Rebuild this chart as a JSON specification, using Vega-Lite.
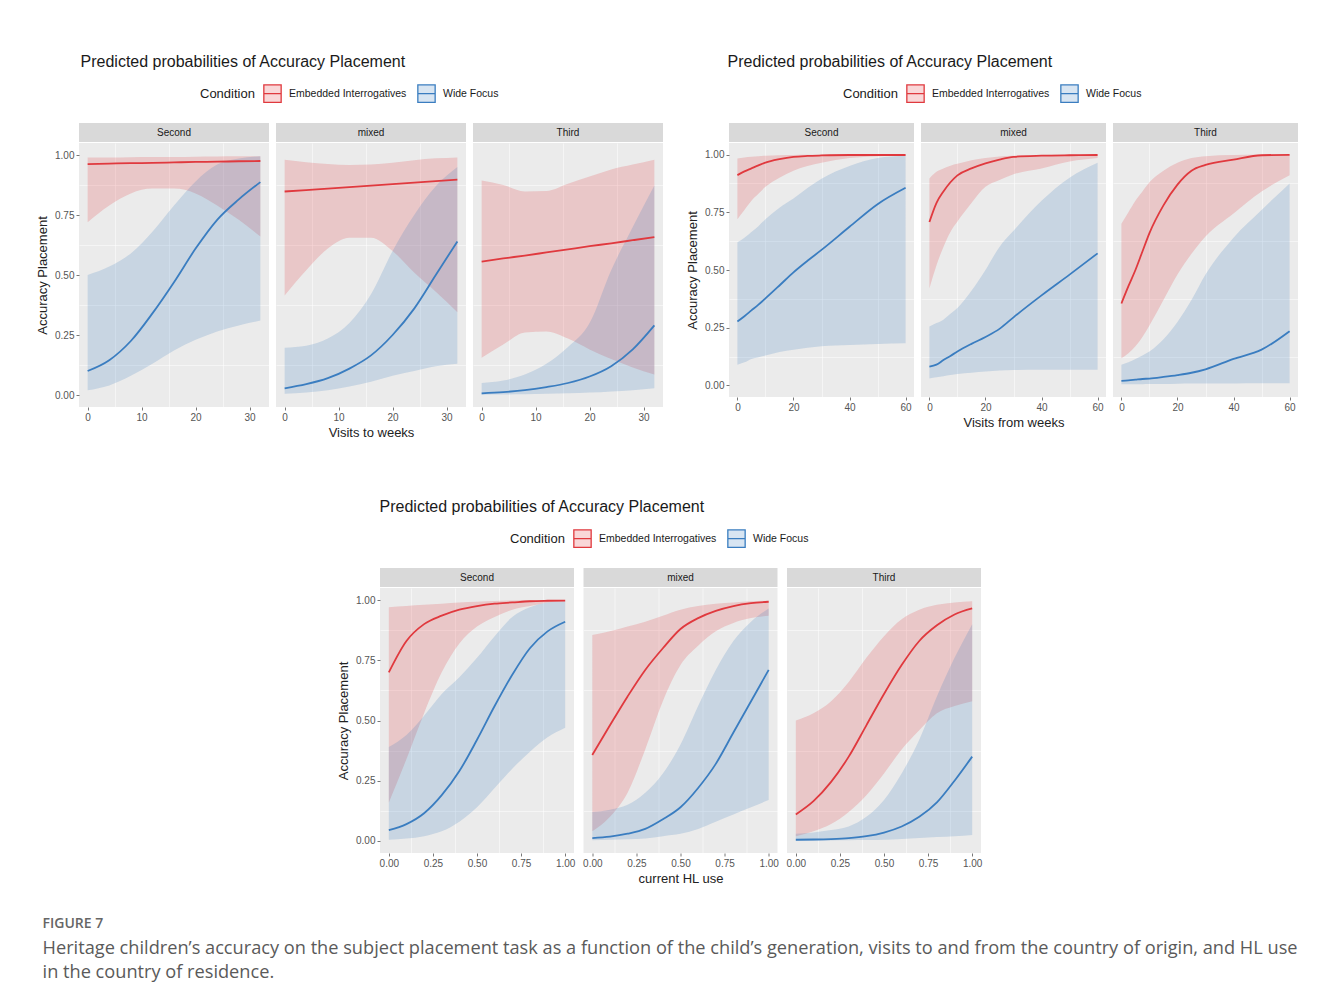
{
"$schema": "https://vega.github.io/schema/vega-lite/v6.json",
"background": "#ffffff",
"padding": {"left": 36, "top": 54, "right": 0, "bottom": 20},
"config": {
  "view": {"fill": "#ebebeb", "stroke": null},
  "title": {"font": "Liberation Sans", "fontSize": 16, "fontWeight": "normal", "color": "#1a1a1a"},
  "axis": {"domain": false, "grid": true, "gridColor": "#ffffff", "gridWidth": 1.1, "tickColor": "#555555", "tickSize": 3, "tickWidth": 0.8, "labelColor": "#555555", "labelFont": "Liberation Sans", "labelFontSize": 10, "labelPadding": 2, "labelFlush": false, "labelOverlap": false, "titleFont": "Liberation Sans", "titleFontSize": 13, "titleFontWeight": "normal", "titleColor": "#222222", "titlePadding": 4},
  "legend": {"orient": "top", "direction": "horizontal", "titleOrient": "left", "titleFont": "Liberation Sans", "titleFontSize": 13, "titleFontWeight": "normal", "titleColor": "#1a1a1a", "labelFont": "Liberation Sans", "labelFontSize": 10.5, "labelColor": "#1a1a1a", "symbolType": "M-1,-1H1V1H-1Z M-1,0H1", "symbolSize": 300, "symbolStrokeWidth": 1.3, "labelOffset": 7, "columnPadding": 8, "titlePadding": 8, "offset": 18, "layout": {"top": {"anchor": "middle"}}}
},
"datasets": {
"A": [
{"g":"Second","c":"Embedded Interrogatives","x":0,"y":0.962,"lo":0.72,"hi":0.99},
{"g":"Second","c":"Embedded Interrogatives","x":4,"y":0.964,"lo":0.79,"hi":0.99},
{"g":"Second","c":"Embedded Interrogatives","x":8,"y":0.966,"lo":0.84,"hi":0.991},
{"g":"Second","c":"Embedded Interrogatives","x":12,"y":0.967,"lo":0.86,"hi":0.992},
{"g":"Second","c":"Embedded Interrogatives","x":16,"y":0.969,"lo":0.86,"hi":0.992},
{"g":"Second","c":"Embedded Interrogatives","x":20,"y":0.971,"lo":0.84,"hi":0.993},
{"g":"Second","c":"Embedded Interrogatives","x":24,"y":0.972,"lo":0.79,"hi":0.994},
{"g":"Second","c":"Embedded Interrogatives","x":28,"y":0.974,"lo":0.73,"hi":0.995},
{"g":"Second","c":"Embedded Interrogatives","x":32,"y":0.975,"lo":0.66,"hi":0.995},
{"g":"Second","c":"Wide Focus","x":0,"y":0.10,"lo":0.02,"hi":0.50},
{"g":"Second","c":"Wide Focus","x":4,"y":0.145,"lo":0.04,"hi":0.535},
{"g":"Second","c":"Wide Focus","x":8,"y":0.225,"lo":0.08,"hi":0.59},
{"g":"Second","c":"Wide Focus","x":12,"y":0.34,"lo":0.13,"hi":0.68},
{"g":"Second","c":"Wide Focus","x":16,"y":0.47,"lo":0.185,"hi":0.79},
{"g":"Second","c":"Wide Focus","x":20,"y":0.61,"lo":0.23,"hi":0.89},
{"g":"Second","c":"Wide Focus","x":24,"y":0.73,"lo":0.265,"hi":0.96},
{"g":"Second","c":"Wide Focus","x":28,"y":0.815,"lo":0.29,"hi":0.985},
{"g":"Second","c":"Wide Focus","x":32,"y":0.887,"lo":0.31,"hi":0.995},
{"g":"mixed","c":"Embedded Interrogatives","x":0,"y":0.848,"lo":0.415,"hi":0.98},
{"g":"mixed","c":"Embedded Interrogatives","x":4,"y":0.854,"lo":0.52,"hi":0.97},
{"g":"mixed","c":"Embedded Interrogatives","x":8,"y":0.86,"lo":0.61,"hi":0.962},
{"g":"mixed","c":"Embedded Interrogatives","x":12,"y":0.866,"lo":0.655,"hi":0.958},
{"g":"mixed","c":"Embedded Interrogatives","x":16,"y":0.872,"lo":0.655,"hi":0.96},
{"g":"mixed","c":"Embedded Interrogatives","x":20,"y":0.879,"lo":0.60,"hi":0.968},
{"g":"mixed","c":"Embedded Interrogatives","x":24,"y":0.885,"lo":0.51,"hi":0.978},
{"g":"mixed","c":"Embedded Interrogatives","x":28,"y":0.891,"lo":0.43,"hi":0.986},
{"g":"mixed","c":"Embedded Interrogatives","x":32,"y":0.897,"lo":0.345,"hi":0.99},
{"g":"mixed","c":"Wide Focus","x":0,"y":0.028,"lo":0.005,"hi":0.197},
{"g":"mixed","c":"Wide Focus","x":4,"y":0.045,"lo":0.01,"hi":0.205},
{"g":"mixed","c":"Wide Focus","x":8,"y":0.07,"lo":0.02,"hi":0.235},
{"g":"mixed","c":"Wide Focus","x":12,"y":0.11,"lo":0.035,"hi":0.30},
{"g":"mixed","c":"Wide Focus","x":16,"y":0.165,"lo":0.055,"hi":0.42},
{"g":"mixed","c":"Wide Focus","x":20,"y":0.25,"lo":0.08,"hi":0.60},
{"g":"mixed","c":"Wide Focus","x":24,"y":0.36,"lo":0.10,"hi":0.75},
{"g":"mixed","c":"Wide Focus","x":28,"y":0.50,"lo":0.12,"hi":0.87},
{"g":"mixed","c":"Wide Focus","x":32,"y":0.64,"lo":0.13,"hi":0.95},
{"g":"Third","c":"Embedded Interrogatives","x":0,"y":0.556,"lo":0.155,"hi":0.894},
{"g":"Third","c":"Embedded Interrogatives","x":4,"y":0.569,"lo":0.21,"hi":0.875},
{"g":"Third","c":"Embedded Interrogatives","x":8,"y":0.581,"lo":0.26,"hi":0.848},
{"g":"Third","c":"Embedded Interrogatives","x":12,"y":0.594,"lo":0.265,"hi":0.85},
{"g":"Third","c":"Embedded Interrogatives","x":16,"y":0.607,"lo":0.235,"hi":0.88},
{"g":"Third","c":"Embedded Interrogatives","x":20,"y":0.62,"lo":0.19,"hi":0.91},
{"g":"Third","c":"Embedded Interrogatives","x":24,"y":0.632,"lo":0.15,"hi":0.94},
{"g":"Third","c":"Embedded Interrogatives","x":28,"y":0.645,"lo":0.115,"hi":0.96},
{"g":"Third","c":"Embedded Interrogatives","x":32,"y":0.658,"lo":0.085,"hi":0.98},
{"g":"Third","c":"Wide Focus","x":0,"y":0.007,"lo":0.001,"hi":0.05},
{"g":"Third","c":"Wide Focus","x":4,"y":0.012,"lo":0.002,"hi":0.06},
{"g":"Third","c":"Wide Focus","x":8,"y":0.02,"lo":0.003,"hi":0.085},
{"g":"Third","c":"Wide Focus","x":12,"y":0.033,"lo":0.005,"hi":0.13},
{"g":"Third","c":"Wide Focus","x":16,"y":0.05,"lo":0.007,"hi":0.20},
{"g":"Third","c":"Wide Focus","x":20,"y":0.077,"lo":0.01,"hi":0.30},
{"g":"Third","c":"Wide Focus","x":24,"y":0.12,"lo":0.015,"hi":0.52},
{"g":"Third","c":"Wide Focus","x":28,"y":0.19,"lo":0.02,"hi":0.70},
{"g":"Third","c":"Wide Focus","x":32,"y":0.29,"lo":0.028,"hi":0.873}
],
"B": [
{"g":"Second","c":"Embedded Interrogatives","x":0,"y":0.911,"lo":0.72,"hi":0.983},
{"g":"Second","c":"Embedded Interrogatives","x":2.5,"y":0.927,"lo":0.76,"hi":0.987},
{"g":"Second","c":"Embedded Interrogatives","x":5,"y":0.94,"lo":0.80,"hi":0.99},
{"g":"Second","c":"Embedded Interrogatives","x":7.5,"y":0.953,"lo":0.83,"hi":0.993},
{"g":"Second","c":"Embedded Interrogatives","x":10,"y":0.965,"lo":0.86,"hi":0.995},
{"g":"Second","c":"Embedded Interrogatives","x":15,"y":0.98,"lo":0.90,"hi":0.997},
{"g":"Second","c":"Embedded Interrogatives","x":20,"y":0.99,"lo":0.93,"hi":0.998},
{"g":"Second","c":"Embedded Interrogatives","x":25,"y":0.994,"lo":0.95,"hi":0.999},
{"g":"Second","c":"Embedded Interrogatives","x":30,"y":0.996,"lo":0.965,"hi":0.999},
{"g":"Second","c":"Embedded Interrogatives","x":40,"y":0.998,"lo":0.985,"hi":0.999},
{"g":"Second","c":"Embedded Interrogatives","x":50,"y":0.998,"lo":0.993,"hi":0.999},
{"g":"Second","c":"Embedded Interrogatives","x":60,"y":0.998,"lo":0.996,"hi":0.999},
{"g":"Second","c":"Wide Focus","x":0,"y":0.277,"lo":0.09,"hi":0.62},
{"g":"Second","c":"Wide Focus","x":2.5,"y":0.30,"lo":0.10,"hi":0.64},
{"g":"Second","c":"Wide Focus","x":5,"y":0.325,"lo":0.115,"hi":0.665},
{"g":"Second","c":"Wide Focus","x":7.5,"y":0.35,"lo":0.122,"hi":0.69},
{"g":"Second","c":"Wide Focus","x":10,"y":0.377,"lo":0.13,"hi":0.72},
{"g":"Second","c":"Wide Focus","x":15,"y":0.433,"lo":0.145,"hi":0.77},
{"g":"Second","c":"Wide Focus","x":20,"y":0.49,"lo":0.155,"hi":0.81},
{"g":"Second","c":"Wide Focus","x":25,"y":0.54,"lo":0.163,"hi":0.855},
{"g":"Second","c":"Wide Focus","x":30,"y":0.587,"lo":0.17,"hi":0.895},
{"g":"Second","c":"Wide Focus","x":40,"y":0.687,"lo":0.175,"hi":0.95},
{"g":"Second","c":"Wide Focus","x":50,"y":0.785,"lo":0.18,"hi":0.985},
{"g":"Second","c":"Wide Focus","x":60,"y":0.856,"lo":0.183,"hi":0.995},
{"g":"mixed","c":"Embedded Interrogatives","x":0,"y":0.708,"lo":0.42,"hi":0.896},
{"g":"mixed","c":"Embedded Interrogatives","x":2.5,"y":0.79,"lo":0.52,"hi":0.925},
{"g":"mixed","c":"Embedded Interrogatives","x":5,"y":0.84,"lo":0.60,"hi":0.94},
{"g":"mixed","c":"Embedded Interrogatives","x":7.5,"y":0.88,"lo":0.665,"hi":0.952},
{"g":"mixed","c":"Embedded Interrogatives","x":10,"y":0.91,"lo":0.71,"hi":0.96},
{"g":"mixed","c":"Embedded Interrogatives","x":15,"y":0.94,"lo":0.79,"hi":0.975},
{"g":"mixed","c":"Embedded Interrogatives","x":20,"y":0.962,"lo":0.86,"hi":0.985},
{"g":"mixed","c":"Embedded Interrogatives","x":25,"y":0.978,"lo":0.89,"hi":0.992},
{"g":"mixed","c":"Embedded Interrogatives","x":30,"y":0.99,"lo":0.915,"hi":0.995},
{"g":"mixed","c":"Embedded Interrogatives","x":40,"y":0.995,"lo":0.94,"hi":0.998},
{"g":"mixed","c":"Embedded Interrogatives","x":50,"y":0.997,"lo":0.97,"hi":0.999},
{"g":"mixed","c":"Embedded Interrogatives","x":60,"y":0.998,"lo":0.985,"hi":0.999},
{"g":"mixed","c":"Wide Focus","x":0,"y":0.082,"lo":0.03,"hi":0.255},
{"g":"mixed","c":"Wide Focus","x":2.5,"y":0.09,"lo":0.035,"hi":0.27},
{"g":"mixed","c":"Wide Focus","x":5,"y":0.11,"lo":0.04,"hi":0.285},
{"g":"mixed","c":"Wide Focus","x":7.5,"y":0.128,"lo":0.045,"hi":0.31},
{"g":"mixed","c":"Wide Focus","x":10,"y":0.147,"lo":0.05,"hi":0.335},
{"g":"mixed","c":"Wide Focus","x":15,"y":0.18,"lo":0.055,"hi":0.41},
{"g":"mixed","c":"Wide Focus","x":20,"y":0.21,"lo":0.06,"hi":0.50},
{"g":"mixed","c":"Wide Focus","x":25,"y":0.245,"lo":0.065,"hi":0.60},
{"g":"mixed","c":"Wide Focus","x":30,"y":0.295,"lo":0.067,"hi":0.67},
{"g":"mixed","c":"Wide Focus","x":40,"y":0.39,"lo":0.068,"hi":0.80},
{"g":"mixed","c":"Wide Focus","x":50,"y":0.48,"lo":0.068,"hi":0.90},
{"g":"mixed","c":"Wide Focus","x":60,"y":0.572,"lo":0.068,"hi":0.965},
{"g":"Third","c":"Embedded Interrogatives","x":0,"y":0.355,"lo":0.118,"hi":0.70},
{"g":"Third","c":"Embedded Interrogatives","x":2.5,"y":0.43,"lo":0.14,"hi":0.75},
{"g":"Third","c":"Embedded Interrogatives","x":5,"y":0.50,"lo":0.17,"hi":0.80},
{"g":"Third","c":"Embedded Interrogatives","x":7.5,"y":0.58,"lo":0.21,"hi":0.84},
{"g":"Third","c":"Embedded Interrogatives","x":10,"y":0.66,"lo":0.26,"hi":0.88},
{"g":"Third","c":"Embedded Interrogatives","x":15,"y":0.78,"lo":0.37,"hi":0.93},
{"g":"Third","c":"Embedded Interrogatives","x":20,"y":0.87,"lo":0.48,"hi":0.965},
{"g":"Third","c":"Embedded Interrogatives","x":25,"y":0.93,"lo":0.57,"hi":0.985},
{"g":"Third","c":"Embedded Interrogatives","x":30,"y":0.955,"lo":0.645,"hi":0.993},
{"g":"Third","c":"Embedded Interrogatives","x":40,"y":0.978,"lo":0.745,"hi":0.998},
{"g":"Third","c":"Embedded Interrogatives","x":50,"y":0.997,"lo":0.84,"hi":0.999},
{"g":"Third","c":"Embedded Interrogatives","x":60,"y":0.999,"lo":0.91,"hi":0.999},
{"g":"Third","c":"Wide Focus","x":0,"y":0.02,"lo":0.005,"hi":0.09},
{"g":"Third","c":"Wide Focus","x":2.5,"y":0.022,"lo":0.005,"hi":0.10},
{"g":"Third","c":"Wide Focus","x":5,"y":0.025,"lo":0.005,"hi":0.115},
{"g":"Third","c":"Wide Focus","x":7.5,"y":0.028,"lo":0.005,"hi":0.13},
{"g":"Third","c":"Wide Focus","x":10,"y":0.03,"lo":0.006,"hi":0.147},
{"g":"Third","c":"Wide Focus","x":15,"y":0.037,"lo":0.006,"hi":0.20},
{"g":"Third","c":"Wide Focus","x":20,"y":0.045,"lo":0.007,"hi":0.275},
{"g":"Third","c":"Wide Focus","x":25,"y":0.055,"lo":0.008,"hi":0.37},
{"g":"Third","c":"Wide Focus","x":30,"y":0.07,"lo":0.008,"hi":0.48},
{"g":"Third","c":"Wide Focus","x":40,"y":0.115,"lo":0.009,"hi":0.64},
{"g":"Third","c":"Wide Focus","x":50,"y":0.155,"lo":0.01,"hi":0.76},
{"g":"Third","c":"Wide Focus","x":60,"y":0.235,"lo":0.01,"hi":0.875}
],
"C": [
{"g":"Second","c":"Embedded Interrogatives","x":0,"y":0.70,"lo":0.16,"hi":0.97},
{"g":"Second","c":"Embedded Interrogatives","x":0.1,"y":0.83,"lo":0.34,"hi":0.975},
{"g":"Second","c":"Embedded Interrogatives","x":0.2,"y":0.90,"lo":0.53,"hi":0.98},
{"g":"Second","c":"Embedded Interrogatives","x":0.3,"y":0.935,"lo":0.70,"hi":0.985},
{"g":"Second","c":"Embedded Interrogatives","x":0.4,"y":0.96,"lo":0.82,"hi":0.99},
{"g":"Second","c":"Embedded Interrogatives","x":0.5,"y":0.975,"lo":0.89,"hi":0.993},
{"g":"Second","c":"Embedded Interrogatives","x":0.6,"y":0.985,"lo":0.93,"hi":0.996},
{"g":"Second","c":"Embedded Interrogatives","x":0.7,"y":0.99,"lo":0.96,"hi":0.998},
{"g":"Second","c":"Embedded Interrogatives","x":0.8,"y":0.995,"lo":0.975,"hi":0.999},
{"g":"Second","c":"Embedded Interrogatives","x":0.9,"y":0.997,"lo":0.99,"hi":0.999},
{"g":"Second","c":"Embedded Interrogatives","x":1.0,"y":0.998,"lo":0.995,"hi":0.999},
{"g":"Second","c":"Wide Focus","x":0,"y":0.045,"lo":0.005,"hi":0.39},
{"g":"Second","c":"Wide Focus","x":0.1,"y":0.07,"lo":0.01,"hi":0.44},
{"g":"Second","c":"Wide Focus","x":0.2,"y":0.115,"lo":0.02,"hi":0.52},
{"g":"Second","c":"Wide Focus","x":0.3,"y":0.19,"lo":0.04,"hi":0.61},
{"g":"Second","c":"Wide Focus","x":0.4,"y":0.29,"lo":0.08,"hi":0.68},
{"g":"Second","c":"Wide Focus","x":0.5,"y":0.42,"lo":0.14,"hi":0.76},
{"g":"Second","c":"Wide Focus","x":0.6,"y":0.56,"lo":0.22,"hi":0.85},
{"g":"Second","c":"Wide Focus","x":0.7,"y":0.69,"lo":0.30,"hi":0.93},
{"g":"Second","c":"Wide Focus","x":0.8,"y":0.80,"lo":0.37,"hi":0.97},
{"g":"Second","c":"Wide Focus","x":0.9,"y":0.87,"lo":0.43,"hi":0.99},
{"g":"Second","c":"Wide Focus","x":1.0,"y":0.91,"lo":0.47,"hi":0.995},
{"g":"mixed","c":"Embedded Interrogatives","x":0,"y":0.357,"lo":0.04,"hi":0.855},
{"g":"mixed","c":"Embedded Interrogatives","x":0.1,"y":0.48,"lo":0.10,"hi":0.87},
{"g":"mixed","c":"Embedded Interrogatives","x":0.2,"y":0.60,"lo":0.20,"hi":0.89},
{"g":"mixed","c":"Embedded Interrogatives","x":0.3,"y":0.71,"lo":0.38,"hi":0.91},
{"g":"mixed","c":"Embedded Interrogatives","x":0.4,"y":0.80,"lo":0.58,"hi":0.935},
{"g":"mixed","c":"Embedded Interrogatives","x":0.5,"y":0.88,"lo":0.73,"hi":0.96},
{"g":"mixed","c":"Embedded Interrogatives","x":0.6,"y":0.925,"lo":0.81,"hi":0.975},
{"g":"mixed","c":"Embedded Interrogatives","x":0.7,"y":0.955,"lo":0.87,"hi":0.985},
{"g":"mixed","c":"Embedded Interrogatives","x":0.8,"y":0.975,"lo":0.905,"hi":0.99},
{"g":"mixed","c":"Embedded Interrogatives","x":0.9,"y":0.987,"lo":0.925,"hi":0.995},
{"g":"mixed","c":"Embedded Interrogatives","x":1.0,"y":0.993,"lo":0.935,"hi":0.997},
{"g":"mixed","c":"Wide Focus","x":0,"y":0.012,"lo":0.003,"hi":0.12},
{"g":"mixed","c":"Wide Focus","x":0.1,"y":0.018,"lo":0.005,"hi":0.13},
{"g":"mixed","c":"Wide Focus","x":0.2,"y":0.03,"lo":0.007,"hi":0.15},
{"g":"mixed","c":"Wide Focus","x":0.3,"y":0.05,"lo":0.01,"hi":0.20},
{"g":"mixed","c":"Wide Focus","x":0.4,"y":0.09,"lo":0.02,"hi":0.28},
{"g":"mixed","c":"Wide Focus","x":0.5,"y":0.14,"lo":0.03,"hi":0.40},
{"g":"mixed","c":"Wide Focus","x":0.6,"y":0.22,"lo":0.05,"hi":0.56},
{"g":"mixed","c":"Wide Focus","x":0.7,"y":0.32,"lo":0.08,"hi":0.71},
{"g":"mixed","c":"Wide Focus","x":0.8,"y":0.45,"lo":0.11,"hi":0.83},
{"g":"mixed","c":"Wide Focus","x":0.9,"y":0.58,"lo":0.14,"hi":0.91},
{"g":"mixed","c":"Wide Focus","x":1.0,"y":0.71,"lo":0.17,"hi":0.965},
{"g":"Third","c":"Embedded Interrogatives","x":0,"y":0.11,"lo":0.02,"hi":0.50},
{"g":"Third","c":"Embedded Interrogatives","x":0.1,"y":0.165,"lo":0.04,"hi":0.53},
{"g":"Third","c":"Embedded Interrogatives","x":0.2,"y":0.245,"lo":0.07,"hi":0.58},
{"g":"Third","c":"Embedded Interrogatives","x":0.3,"y":0.35,"lo":0.12,"hi":0.66},
{"g":"Third","c":"Embedded Interrogatives","x":0.4,"y":0.48,"lo":0.19,"hi":0.76},
{"g":"Third","c":"Embedded Interrogatives","x":0.5,"y":0.61,"lo":0.28,"hi":0.85},
{"g":"Third","c":"Embedded Interrogatives","x":0.6,"y":0.73,"lo":0.38,"hi":0.92},
{"g":"Third","c":"Embedded Interrogatives","x":0.7,"y":0.83,"lo":0.46,"hi":0.96},
{"g":"Third","c":"Embedded Interrogatives","x":0.8,"y":0.895,"lo":0.53,"hi":0.98},
{"g":"Third","c":"Embedded Interrogatives","x":0.9,"y":0.94,"lo":0.56,"hi":0.99},
{"g":"Third","c":"Embedded Interrogatives","x":1.0,"y":0.965,"lo":0.58,"hi":0.995},
{"g":"Third","c":"Wide Focus","x":0,"y":0.005,"lo":0.001,"hi":0.03},
{"g":"Third","c":"Wide Focus","x":0.1,"y":0.006,"lo":0.001,"hi":0.035},
{"g":"Third","c":"Wide Focus","x":0.2,"y":0.008,"lo":0.002,"hi":0.045},
{"g":"Third","c":"Wide Focus","x":0.3,"y":0.012,"lo":0.003,"hi":0.06},
{"g":"Third","c":"Wide Focus","x":0.4,"y":0.02,"lo":0.004,"hi":0.10},
{"g":"Third","c":"Wide Focus","x":0.5,"y":0.035,"lo":0.005,"hi":0.17},
{"g":"Third","c":"Wide Focus","x":0.6,"y":0.06,"lo":0.008,"hi":0.28},
{"g":"Third","c":"Wide Focus","x":0.7,"y":0.10,"lo":0.012,"hi":0.42},
{"g":"Third","c":"Wide Focus","x":0.8,"y":0.16,"lo":0.016,"hi":0.60},
{"g":"Third","c":"Wide Focus","x":0.9,"y":0.25,"lo":0.02,"hi":0.76},
{"g":"Third","c":"Wide Focus","x":1.0,"y":0.35,"lo":0.025,"hi":0.90}
]
},
"title": {"text": "FIGURE 7", "subtitle": ["Heritage children’s accuracy on the subject placement task as a function of the child’s generation, visits to and from the country of origin, and HL use", "in the country of residence."], "orient": "bottom", "anchor": "start", "frame": "bounds", "offset": 32, "dx": 6, "font": "Open Sans", "fontSize": 14, "fontWeight": 600, "color": "#666666", "subtitleFont": "Open Sans", "subtitleFontSize": 18.2, "subtitleColor": "#5a5a5a", "subtitleLineHeight": 24, "subtitlePadding": 9, "limit": 0},
"spacing": 60,
"resolve": {"scale": {"fill": "independent", "stroke": "independent"}},
"vconcat": [
{
"spacing": 23,
"resolve": {"scale": {"fill": "independent", "stroke": "independent"}},
"hconcat": [
{
"title": {"text": "Predicted probabilities of Accuracy Placement", "anchor": "start", "dx": 44, "offset": 14},
"spacing": 7,
"hconcat": [
{"spacing": 1, "vconcat": [
 {"width": 190, "height": 19, "view": {"fill": "#d9d9d9", "stroke": null}, "data": {"values": [{"s": "Second"}]}, "mark": {"type": "text", "fontSize": 10, "font": "Liberation Sans", "color": "#1a1a1a"}, "encoding": {"text": {"field": "s", "type": "nominal"}}},
 {"width": 190, "height": 264, "data": {"name": "A"}, "transform": [{"filter": "datum.g === 'Second'"}], "layer": [
  {"mark": {"type": "area", "fillOpacity": 0.2, "interpolate": "monotone"}, "encoding": {
   "x": {"field": "x", "type": "quantitative", "scale": {"domain": [-1.6, 33.6], "nice": false, "zero": false}, "axis": {"orient": "top", "values": [5, 15, 25], "gridWidth": 0.5, "labels": false, "ticks": false, "title": null}},
   "y": {"field": "lo", "type": "quantitative", "scale": {"domain": [-0.05, 1.05], "nice": false, "zero": false}, "axis": {"orient": "right", "values": [0.125, 0.375, 0.625, 0.875], "gridWidth": 0.5, "labels": false, "ticks": false, "title": null}},
   "y2": {"field": "hi"},
   "fill": {"field": "c", "type": "nominal", "title": "Condition", "scale": {"domain": ["Embedded Interrogatives", "Wide Focus"], "range": ["#e0393e", "#3a7dc0"]}, "legend": {"encode": {"symbols": {"update": {"fillOpacity": {"value": 0.2}, "strokeOpacity": {"value": 1}}}}}}}},
  {"mark": {"type": "line", "strokeWidth": 1.8, "interpolate": "monotone"}, "encoding": {
   "x": {"field": "x", "type": "quantitative", "scale": {"domain": [-1.6, 33.6], "nice": false, "zero": false}, "axis": {"orient": "bottom", "values": [0, 10, 20, 30], "format": "d", "title": null}},
   "y": {"field": "y", "type": "quantitative", "scale": {"domain": [-0.05, 1.05], "nice": false, "zero": false}, "axis": {"orient": "left", "values": [0, 0.25, 0.5, 0.75, 1], "format": ".2f", "title": "Accuracy Placement", "titlePadding": 5}},
   "stroke": {"field": "c", "type": "nominal", "title": "Condition", "scale": {"domain": ["Embedded Interrogatives", "Wide Focus"], "range": ["#e0393e", "#3a7dc0"]}}}}
 ]}
]},
{"spacing": 1, "vconcat": [
 {"width": 190, "height": 19, "view": {"fill": "#d9d9d9", "stroke": null}, "data": {"values": [{"s": "mixed"}]}, "mark": {"type": "text", "fontSize": 10, "font": "Liberation Sans", "color": "#1a1a1a"}, "encoding": {"text": {"field": "s", "type": "nominal"}}},
 {"width": 190, "height": 264, "data": {"name": "A"}, "transform": [{"filter": "datum.g === 'mixed'"}], "layer": [
  {"mark": {"type": "area", "fillOpacity": 0.2, "interpolate": "monotone"}, "encoding": {
   "x": {"field": "x", "type": "quantitative", "scale": {"domain": [-1.6, 33.6], "nice": false, "zero": false}, "axis": {"orient": "top", "values": [5, 15, 25], "gridWidth": 0.5, "labels": false, "ticks": false, "title": null}},
   "y": {"field": "lo", "type": "quantitative", "scale": {"domain": [-0.05, 1.05], "nice": false, "zero": false}, "axis": {"orient": "right", "values": [0.125, 0.375, 0.625, 0.875], "gridWidth": 0.5, "labels": false, "ticks": false, "title": null}},
   "y2": {"field": "hi"},
   "fill": {"field": "c", "type": "nominal", "title": "Condition", "scale": {"domain": ["Embedded Interrogatives", "Wide Focus"], "range": ["#e0393e", "#3a7dc0"]}, "legend": {"encode": {"symbols": {"update": {"fillOpacity": {"value": 0.2}, "strokeOpacity": {"value": 1}}}}}}}},
  {"mark": {"type": "line", "strokeWidth": 1.8, "interpolate": "monotone"}, "encoding": {
   "x": {"field": "x", "type": "quantitative", "scale": {"domain": [-1.6, 33.6], "nice": false, "zero": false}, "axis": {"orient": "bottom", "values": [0, 10, 20, 30], "format": "d", "title": "Visits to weeks"}},
   "y": {"field": "y", "type": "quantitative", "scale": {"domain": [-0.05, 1.05], "nice": false, "zero": false}, "axis": {"orient": "left", "values": [0, 0.25, 0.5, 0.75, 1], "labels": false, "ticks": false, "title": null}},
   "stroke": {"field": "c", "type": "nominal", "title": "Condition", "scale": {"domain": ["Embedded Interrogatives", "Wide Focus"], "range": ["#e0393e", "#3a7dc0"]}}}}
 ]}
]},
{"spacing": 1, "vconcat": [
 {"width": 190, "height": 19, "view": {"fill": "#d9d9d9", "stroke": null}, "data": {"values": [{"s": "Third"}]}, "mark": {"type": "text", "fontSize": 10, "font": "Liberation Sans", "color": "#1a1a1a"}, "encoding": {"text": {"field": "s", "type": "nominal"}}},
 {"width": 190, "height": 264, "data": {"name": "A"}, "transform": [{"filter": "datum.g === 'Third'"}], "layer": [
  {"mark": {"type": "area", "fillOpacity": 0.2, "interpolate": "monotone"}, "encoding": {
   "x": {"field": "x", "type": "quantitative", "scale": {"domain": [-1.6, 33.6], "nice": false, "zero": false}, "axis": {"orient": "top", "values": [5, 15, 25], "gridWidth": 0.5, "labels": false, "ticks": false, "title": null}},
   "y": {"field": "lo", "type": "quantitative", "scale": {"domain": [-0.05, 1.05], "nice": false, "zero": false}, "axis": {"orient": "right", "values": [0.125, 0.375, 0.625, 0.875], "gridWidth": 0.5, "labels": false, "ticks": false, "title": null}},
   "y2": {"field": "hi"},
   "fill": {"field": "c", "type": "nominal", "title": "Condition", "scale": {"domain": ["Embedded Interrogatives", "Wide Focus"], "range": ["#e0393e", "#3a7dc0"]}, "legend": {"encode": {"symbols": {"update": {"fillOpacity": {"value": 0.2}, "strokeOpacity": {"value": 1}}}}}}}},
  {"mark": {"type": "line", "strokeWidth": 1.8, "interpolate": "monotone"}, "encoding": {
   "x": {"field": "x", "type": "quantitative", "scale": {"domain": [-1.6, 33.6], "nice": false, "zero": false}, "axis": {"orient": "bottom", "values": [0, 10, 20, 30], "format": "d", "title": null}},
   "y": {"field": "y", "type": "quantitative", "scale": {"domain": [-0.05, 1.05], "nice": false, "zero": false}, "axis": {"orient": "left", "values": [0, 0.25, 0.5, 0.75, 1], "labels": false, "ticks": false, "title": null}},
   "stroke": {"field": "c", "type": "nominal", "title": "Condition", "scale": {"domain": ["Embedded Interrogatives", "Wide Focus"], "range": ["#e0393e", "#3a7dc0"]}}}}
 ]}
]}
]
},
{
"title": {"text": "Predicted probabilities of Accuracy Placement", "anchor": "start", "dx": 41, "offset": 14},
"spacing": 7,
"hconcat": [
{"spacing": 1, "vconcat": [
 {"width": 185, "height": 19, "view": {"fill": "#d9d9d9", "stroke": null}, "data": {"values": [{"s": "Second"}]}, "mark": {"type": "text", "fontSize": 10, "font": "Liberation Sans", "color": "#1a1a1a"}, "encoding": {"text": {"field": "s", "type": "nominal"}}},
 {"width": 185, "height": 254, "data": {"name": "B"}, "transform": [{"filter": "datum.g === 'Second'"}], "layer": [
  {"mark": {"type": "area", "fillOpacity": 0.2, "interpolate": "monotone"}, "encoding": {
   "x": {"field": "x", "type": "quantitative", "scale": {"domain": [-3, 63], "nice": false, "zero": false}, "axis": {"orient": "top", "values": [10, 30, 50], "gridWidth": 0.5, "labels": false, "ticks": false, "title": null}},
   "y": {"field": "lo", "type": "quantitative", "scale": {"domain": [-0.05, 1.05], "nice": false, "zero": false}, "axis": {"orient": "right", "values": [0.125, 0.375, 0.625, 0.875], "gridWidth": 0.5, "labels": false, "ticks": false, "title": null}},
   "y2": {"field": "hi"},
   "fill": {"field": "c", "type": "nominal", "title": "Condition", "scale": {"domain": ["Embedded Interrogatives", "Wide Focus"], "range": ["#e0393e", "#3a7dc0"]}, "legend": {"encode": {"symbols": {"update": {"fillOpacity": {"value": 0.2}, "strokeOpacity": {"value": 1}}}}}}}},
  {"mark": {"type": "line", "strokeWidth": 1.8, "interpolate": "monotone"}, "encoding": {
   "x": {"field": "x", "type": "quantitative", "scale": {"domain": [-3, 63], "nice": false, "zero": false}, "axis": {"orient": "bottom", "values": [0, 20, 40, 60], "format": "d", "title": null}},
   "y": {"field": "y", "type": "quantitative", "scale": {"domain": [-0.05, 1.05], "nice": false, "zero": false}, "axis": {"orient": "left", "values": [0, 0.25, 0.5, 0.75, 1], "format": ".2f", "title": "Accuracy Placement", "titlePadding": 5}},
   "stroke": {"field": "c", "type": "nominal", "title": "Condition", "scale": {"domain": ["Embedded Interrogatives", "Wide Focus"], "range": ["#e0393e", "#3a7dc0"]}}}}
 ]}
]},
{"spacing": 1, "vconcat": [
 {"width": 185, "height": 19, "view": {"fill": "#d9d9d9", "stroke": null}, "data": {"values": [{"s": "mixed"}]}, "mark": {"type": "text", "fontSize": 10, "font": "Liberation Sans", "color": "#1a1a1a"}, "encoding": {"text": {"field": "s", "type": "nominal"}}},
 {"width": 185, "height": 254, "data": {"name": "B"}, "transform": [{"filter": "datum.g === 'mixed'"}], "layer": [
  {"mark": {"type": "area", "fillOpacity": 0.2, "interpolate": "monotone"}, "encoding": {
   "x": {"field": "x", "type": "quantitative", "scale": {"domain": [-3, 63], "nice": false, "zero": false}, "axis": {"orient": "top", "values": [10, 30, 50], "gridWidth": 0.5, "labels": false, "ticks": false, "title": null}},
   "y": {"field": "lo", "type": "quantitative", "scale": {"domain": [-0.05, 1.05], "nice": false, "zero": false}, "axis": {"orient": "right", "values": [0.125, 0.375, 0.625, 0.875], "gridWidth": 0.5, "labels": false, "ticks": false, "title": null}},
   "y2": {"field": "hi"},
   "fill": {"field": "c", "type": "nominal", "title": "Condition", "scale": {"domain": ["Embedded Interrogatives", "Wide Focus"], "range": ["#e0393e", "#3a7dc0"]}, "legend": {"encode": {"symbols": {"update": {"fillOpacity": {"value": 0.2}, "strokeOpacity": {"value": 1}}}}}}}},
  {"mark": {"type": "line", "strokeWidth": 1.8, "interpolate": "monotone"}, "encoding": {
   "x": {"field": "x", "type": "quantitative", "scale": {"domain": [-3, 63], "nice": false, "zero": false}, "axis": {"orient": "bottom", "values": [0, 20, 40, 60], "format": "d", "title": "Visits from weeks"}},
   "y": {"field": "y", "type": "quantitative", "scale": {"domain": [-0.05, 1.05], "nice": false, "zero": false}, "axis": {"orient": "left", "values": [0, 0.25, 0.5, 0.75, 1], "labels": false, "ticks": false, "title": null}},
   "stroke": {"field": "c", "type": "nominal", "title": "Condition", "scale": {"domain": ["Embedded Interrogatives", "Wide Focus"], "range": ["#e0393e", "#3a7dc0"]}}}}
 ]}
]},
{"spacing": 1, "vconcat": [
 {"width": 185, "height": 19, "view": {"fill": "#d9d9d9", "stroke": null}, "data": {"values": [{"s": "Third"}]}, "mark": {"type": "text", "fontSize": 10, "font": "Liberation Sans", "color": "#1a1a1a"}, "encoding": {"text": {"field": "s", "type": "nominal"}}},
 {"width": 185, "height": 254, "data": {"name": "B"}, "transform": [{"filter": "datum.g === 'Third'"}], "layer": [
  {"mark": {"type": "area", "fillOpacity": 0.2, "interpolate": "monotone"}, "encoding": {
   "x": {"field": "x", "type": "quantitative", "scale": {"domain": [-3, 63], "nice": false, "zero": false}, "axis": {"orient": "top", "values": [10, 30, 50], "gridWidth": 0.5, "labels": false, "ticks": false, "title": null}},
   "y": {"field": "lo", "type": "quantitative", "scale": {"domain": [-0.05, 1.05], "nice": false, "zero": false}, "axis": {"orient": "right", "values": [0.125, 0.375, 0.625, 0.875], "gridWidth": 0.5, "labels": false, "ticks": false, "title": null}},
   "y2": {"field": "hi"},
   "fill": {"field": "c", "type": "nominal", "title": "Condition", "scale": {"domain": ["Embedded Interrogatives", "Wide Focus"], "range": ["#e0393e", "#3a7dc0"]}, "legend": {"encode": {"symbols": {"update": {"fillOpacity": {"value": 0.2}, "strokeOpacity": {"value": 1}}}}}}}},
  {"mark": {"type": "line", "strokeWidth": 1.8, "interpolate": "monotone"}, "encoding": {
   "x": {"field": "x", "type": "quantitative", "scale": {"domain": [-3, 63], "nice": false, "zero": false}, "axis": {"orient": "bottom", "values": [0, 20, 40, 60], "format": "d", "title": null}},
   "y": {"field": "y", "type": "quantitative", "scale": {"domain": [-0.05, 1.05], "nice": false, "zero": false}, "axis": {"orient": "left", "values": [0, 0.25, 0.5, 0.75, 1], "labels": false, "ticks": false, "title": null}},
   "stroke": {"field": "c", "type": "nominal", "title": "Condition", "scale": {"domain": ["Embedded Interrogatives", "Wide Focus"], "range": ["#e0393e", "#3a7dc0"]}}}}
 ]}
]}
]
}
]
},
{
"spacing": 0,
"resolve": {"scale": {"fill": "independent", "stroke": "independent"}},
"hconcat": [
{"width": 258, "height": 10, "view": {"fill": null, "stroke": null}, "data": {"values": []}, "mark": "point"},
{
"title": {"text": "Predicted probabilities of Accuracy Placement", "anchor": "start", "dx": 42, "offset": 14},
"spacing": 7.5,
"hconcat": [
{"spacing": 1, "vconcat": [
 {"width": 194, "height": 19, "view": {"fill": "#d9d9d9", "stroke": null}, "data": {"values": [{"s": "Second"}]}, "mark": {"type": "text", "fontSize": 10, "font": "Liberation Sans", "color": "#1a1a1a"}, "encoding": {"text": {"field": "s", "type": "nominal"}}},
 {"width": 194, "height": 265, "data": {"name": "C"}, "transform": [{"filter": "datum.g === 'Second'"}], "layer": [
  {"mark": {"type": "area", "fillOpacity": 0.2, "interpolate": "monotone"}, "encoding": {
   "x": {"field": "x", "type": "quantitative", "scale": {"domain": [-0.05, 1.05], "nice": false, "zero": false}, "axis": {"orient": "top", "values": [0.125, 0.375, 0.625, 0.875], "gridWidth": 0.5, "labels": false, "ticks": false, "title": null}},
   "y": {"field": "lo", "type": "quantitative", "scale": {"domain": [-0.05, 1.05], "nice": false, "zero": false}, "axis": {"orient": "right", "values": [0.125, 0.375, 0.625, 0.875], "gridWidth": 0.5, "labels": false, "ticks": false, "title": null}},
   "y2": {"field": "hi"},
   "fill": {"field": "c", "type": "nominal", "title": "Condition", "scale": {"domain": ["Embedded Interrogatives", "Wide Focus"], "range": ["#e0393e", "#3a7dc0"]}, "legend": {"encode": {"symbols": {"update": {"fillOpacity": {"value": 0.2}, "strokeOpacity": {"value": 1}}}}}}}},
  {"mark": {"type": "line", "strokeWidth": 1.8, "interpolate": "monotone"}, "encoding": {
   "x": {"field": "x", "type": "quantitative", "scale": {"domain": [-0.05, 1.05], "nice": false, "zero": false}, "axis": {"orient": "bottom", "values": [0, 0.25, 0.5, 0.75, 1], "format": ".2f", "title": null}},
   "y": {"field": "y", "type": "quantitative", "scale": {"domain": [-0.05, 1.05], "nice": false, "zero": false}, "axis": {"orient": "left", "values": [0, 0.25, 0.5, 0.75, 1], "format": ".2f", "title": "Accuracy Placement", "titlePadding": 5}},
   "stroke": {"field": "c", "type": "nominal", "title": "Condition", "scale": {"domain": ["Embedded Interrogatives", "Wide Focus"], "range": ["#e0393e", "#3a7dc0"]}}}}
 ]}
]},
{"spacing": 1, "vconcat": [
 {"width": 194, "height": 19, "view": {"fill": "#d9d9d9", "stroke": null}, "data": {"values": [{"s": "mixed"}]}, "mark": {"type": "text", "fontSize": 10, "font": "Liberation Sans", "color": "#1a1a1a"}, "encoding": {"text": {"field": "s", "type": "nominal"}}},
 {"width": 194, "height": 265, "data": {"name": "C"}, "transform": [{"filter": "datum.g === 'mixed'"}], "layer": [
  {"mark": {"type": "area", "fillOpacity": 0.2, "interpolate": "monotone"}, "encoding": {
   "x": {"field": "x", "type": "quantitative", "scale": {"domain": [-0.05, 1.05], "nice": false, "zero": false}, "axis": {"orient": "top", "values": [0.125, 0.375, 0.625, 0.875], "gridWidth": 0.5, "labels": false, "ticks": false, "title": null}},
   "y": {"field": "lo", "type": "quantitative", "scale": {"domain": [-0.05, 1.05], "nice": false, "zero": false}, "axis": {"orient": "right", "values": [0.125, 0.375, 0.625, 0.875], "gridWidth": 0.5, "labels": false, "ticks": false, "title": null}},
   "y2": {"field": "hi"},
   "fill": {"field": "c", "type": "nominal", "title": "Condition", "scale": {"domain": ["Embedded Interrogatives", "Wide Focus"], "range": ["#e0393e", "#3a7dc0"]}, "legend": {"encode": {"symbols": {"update": {"fillOpacity": {"value": 0.2}, "strokeOpacity": {"value": 1}}}}}}}},
  {"mark": {"type": "line", "strokeWidth": 1.8, "interpolate": "monotone"}, "encoding": {
   "x": {"field": "x", "type": "quantitative", "scale": {"domain": [-0.05, 1.05], "nice": false, "zero": false}, "axis": {"orient": "bottom", "values": [0, 0.25, 0.5, 0.75, 1], "format": ".2f", "title": "current HL use"}},
   "y": {"field": "y", "type": "quantitative", "scale": {"domain": [-0.05, 1.05], "nice": false, "zero": false}, "axis": {"orient": "left", "values": [0, 0.25, 0.5, 0.75, 1], "labels": false, "ticks": false, "title": null}},
   "stroke": {"field": "c", "type": "nominal", "title": "Condition", "scale": {"domain": ["Embedded Interrogatives", "Wide Focus"], "range": ["#e0393e", "#3a7dc0"]}}}}
 ]}
]},
{"spacing": 1, "vconcat": [
 {"width": 194, "height": 19, "view": {"fill": "#d9d9d9", "stroke": null}, "data": {"values": [{"s": "Third"}]}, "mark": {"type": "text", "fontSize": 10, "font": "Liberation Sans", "color": "#1a1a1a"}, "encoding": {"text": {"field": "s", "type": "nominal"}}},
 {"width": 194, "height": 265, "data": {"name": "C"}, "transform": [{"filter": "datum.g === 'Third'"}], "layer": [
  {"mark": {"type": "area", "fillOpacity": 0.2, "interpolate": "monotone"}, "encoding": {
   "x": {"field": "x", "type": "quantitative", "scale": {"domain": [-0.05, 1.05], "nice": false, "zero": false}, "axis": {"orient": "top", "values": [0.125, 0.375, 0.625, 0.875], "gridWidth": 0.5, "labels": false, "ticks": false, "title": null}},
   "y": {"field": "lo", "type": "quantitative", "scale": {"domain": [-0.05, 1.05], "nice": false, "zero": false}, "axis": {"orient": "right", "values": [0.125, 0.375, 0.625, 0.875], "gridWidth": 0.5, "labels": false, "ticks": false, "title": null}},
   "y2": {"field": "hi"},
   "fill": {"field": "c", "type": "nominal", "title": "Condition", "scale": {"domain": ["Embedded Interrogatives", "Wide Focus"], "range": ["#e0393e", "#3a7dc0"]}, "legend": {"encode": {"symbols": {"update": {"fillOpacity": {"value": 0.2}, "strokeOpacity": {"value": 1}}}}}}}},
  {"mark": {"type": "line", "strokeWidth": 1.8, "interpolate": "monotone"}, "encoding": {
   "x": {"field": "x", "type": "quantitative", "scale": {"domain": [-0.05, 1.05], "nice": false, "zero": false}, "axis": {"orient": "bottom", "values": [0, 0.25, 0.5, 0.75, 1], "format": ".2f", "title": null}},
   "y": {"field": "y", "type": "quantitative", "scale": {"domain": [-0.05, 1.05], "nice": false, "zero": false}, "axis": {"orient": "left", "values": [0, 0.25, 0.5, 0.75, 1], "labels": false, "ticks": false, "title": null}},
   "stroke": {"field": "c", "type": "nominal", "title": "Condition", "scale": {"domain": ["Embedded Interrogatives", "Wide Focus"], "range": ["#e0393e", "#3a7dc0"]}}}}
 ]}
]}
]
}
]
}
]
}
